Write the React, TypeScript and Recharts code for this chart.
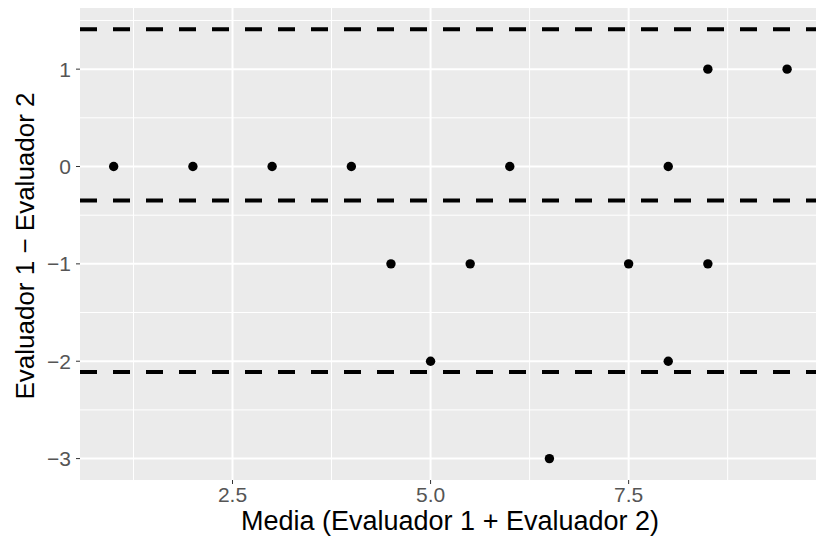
import React from 'react';
import { ScatterChart, Scatter, XAxis, YAxis, CartesianGrid, ReferenceLine } from 'recharts';

// Bland-Altman: mean of both raters vs difference
const meanX = [1, 2, 3, 4, 4.5, 5, 5.5, 6, 6.5, 7.5, 8, 8, 8.5, 8.5, 9.5];
const diffY = [0, 0, 0, 0, -1, -2, -1, 0, -3, -1, 0, -2, 1, -1, 1];
const limitLines = [1.41, -0.35, -2.11];
const xTicks = [2.5, 5, 7.5];
const yTicks = [-3, -2, -1, 0, 1];
const xMinor = [1.25, 3.75, 6.25, 8.75];
const yMinor = [-2.5, -1.5, -0.5, 0.5, 1.5];

const points = meanX.map((x, i) => ({ x, y: diffY[i] }));

const FONT = '"Liberation Sans", Arial, sans-serif';
const tickStyle = { fill: '#555', fontSize: 21, fontFamily: FONT };

const Dot = (props: any) => <circle cx={props.cx} cy={props.cy} r={4.7} fill="#000" />;

export default function App() {
  return (
    <div style={{ position: 'absolute', left: 0, top: 0, width: 816, height: 543, background: '#fff' }}>
      <ScatterChart width={816} height={543} margin={{ top: 8, right: 0, bottom: 0, left: 0 }}>
        <CartesianGrid
          fill="#EBEBEB"
          fillOpacity={1}
          stroke="#fff"
          strokeWidth={1}
          horizontalValues={yMinor}
          verticalValues={xMinor}
        />
        <CartesianGrid
          stroke="#fff"
          strokeWidth={2}
          horizontalValues={yTicks}
          verticalValues={xTicks}
        />
        <XAxis
          type="number"
          dataKey="x"
          domain={[0.575, 9.865]}
          ticks={xTicks}
          tickFormatter={(v: number) => v.toFixed(1)}
          allowDataOverflow
          axisLine={false}
          tickSize={4}
          tickMargin={3}
          tickLine={{ stroke: '#333', strokeWidth: 1 }}
          tick={tickStyle}
          height={63}
          label={{
            content: () => (
              <text
                x={450}
                y={521}
                textAnchor="middle"
                dominantBaseline="central"
                style={{ fill: '#000', fontSize: 27, fontFamily: FONT }}
              >
                Media (Evaluador 1 + Evaluador 2)
              </text>
            ),
          }}
        />
        <YAxis
          type="number"
          dataKey="y"
          domain={[-3.22, 1.628]}
          ticks={yTicks}
          tickFormatter={(v: number) => (v < 0 ? '\u2212' + Math.abs(v) : String(v))}
          allowDataOverflow
          axisLine={false}
          tickSize={4}
          tickMargin={5}
          tickLine={{ stroke: '#333', strokeWidth: 1 }}
          tick={tickStyle}
          width={80}
          label={{
            content: () => (
              <text
                x={25}
                y={246}
                transform="rotate(-90 25 246)"
                textAnchor="middle"
                dominantBaseline="central"
                style={{ fill: '#000', fontSize: 26, fontFamily: FONT }}
              >
                Evaluador 1 − Evaluador 2
              </text>
            ),
          }}
        />
        {limitLines.map((v) => (
          <ReferenceLine key={v} y={v} stroke="#000" strokeWidth={4} strokeDasharray="17 16" />
        ))}
        <Scatter data={points} shape={Dot} isAnimationActive={false} />
      </ScatterChart>
    </div>
  );
}
